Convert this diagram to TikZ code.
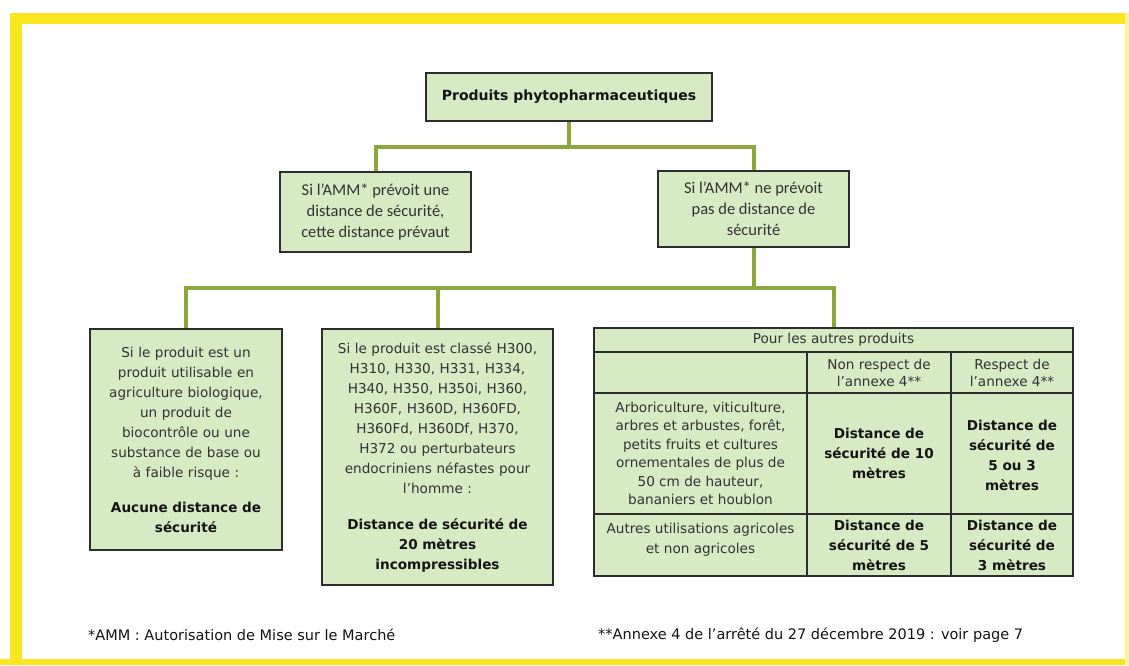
\documentclass[tikz,border=0pt]{standalone}
\usepackage{fontspec}
\setmainfont{Carlito}
\newfontfamily\tah{DejaVu Sans}
\definecolor{ylw}{RGB}{250,230,30}
\definecolor{ylwpale}{RGB}{252,244,150}
\definecolor{boxfill}{RGB}{214,235,196}
\definecolor{boxline}{RGB}{45,45,45}
\definecolor{conncol}{RGB}{140,168,60}
\definecolor{txt}{RGB}{50,50,50}
\definecolor{btxt}{RGB}{20,20,20}
\tikzset{
  box/.style={draw=boxline, line width=2.2pt, fill=boxfill, inner sep=0pt, align=center, text=txt},
  conn/.style={draw=conncol, line width=4pt},
  tline/.style={draw=boxline, line width=1.8pt},
  ftah/.style={font={\tah\fontsize{13.6}{20}\selectfont}},
  fcal/.style={font={\fontsize{16.5}{21}\selectfont}},
  cell/.style={inner sep=0pt, align=center, text=txt, font={\tah\fontsize{13.6}{18.5}\selectfont}},
  bcell/.style={inner sep=0pt, align=center, text=btxt, font={\tah\bfseries\fontsize{13.6}{20}\selectfont}},
  foot/.style={inner sep=0pt, anchor=west, text=btxt, font={\tah\fontsize{14.5}{18}\selectfont}}
}
\begin{document}
\begin{tikzpicture}[x=1pt,y=-1pt]
\useasboundingbox (0,0) rectangle (1129,665);
\fill[white] (0,0) rectangle (1129,665);
% yellow frame
\fill[ylw] (10,13) rectangle (1129,24);
\fill[ylw] (10,13) rectangle (22,665);
\fill[ylw] (0,659) rectangle (1129,665);
\fill[ylwpale] (1125,13) rectangle (1129,665);

% level 1
\node[box, minimum width=286pt, minimum height=48pt, text=btxt,
      font={\tah\bfseries\fontsize{14}{18}\selectfont}] (top) at (569,97) {Produits phytopharmaceutiques};

% level 2
\node[box, fcal, minimum width=191pt, minimum height=80pt] (l2a) at (375.5,212)
  {Si l’AMM* prévoit une\\distance de sécurité,\\cette distance prévaut};
\node[box, fcal, minimum width=191pt, minimum height=76pt] (l2b) at (753.5,209)
  {Si l’AMM* ne prévoit\\pas de distance de\\sécurité};

% level 3
\node[box, ftah, minimum width=192pt, minimum height=221pt, text width=188pt] (l3a) at (186,439.5)
  {Si le produit est un\\produit utilisable en\\agriculture biologique,\\un produit de\\biocontrôle ou une\\substance de base ou\\à faible risque :\\[15pt]\bfseries\color{btxt}Aucune distance de\\sécurité};
\node[box, ftah, minimum width=231pt, minimum height=256pt, text width=228pt] (l3b) at (437.5,457)
  {Si le produit est classé H300,\\H310, H330, H331, H334,\\H340, H350, H350i, H360,\\H360F, H360D, H360FD,\\H360Fd, H360Df, H370,\\H372 ou perturbateurs\\endocriniens néfastes pour\\l’homme :\\[16pt]\bfseries\color{btxt}Distance de sécurité de\\20 mètres\\incompressibles};

% table
\node[box, minimum width=479pt, minimum height=248pt] (tbl) at (833.5,452) {};
\coordinate (colA) at (807,352);
\coordinate (colB) at (951,352);
\draw[tline] (tbl.west |- colA) -- (tbl.east |- colA);
\draw[tline] (tbl.west |- 0,393) -- (tbl.east |- 0,393);
\draw[tline] (tbl.west |- 0,514) -- (tbl.east |- 0,514);
\draw[tline] (colA) -- (colA |- tbl.south);
\draw[tline] (colB) -- (colB |- tbl.south);

\node[cell] (c0) at (833.5,340) {Pour les autres produits};
\node[cell, font={\tah\fontsize{13.6}{17}\selectfont}] (c12) at (879,372.5) {Non respect de\\l’annexe 4**};
\node[cell, font={\tah\fontsize{13.6}{17}\selectfont}] (c13) at (1012,372.5) {Respect de\\l’annexe 4**};
\node[cell] (c21) at (700.5,453.5) {Arboriculture, viticulture,\\arbres et arbustes, forêt,\\petits fruits et cultures\\ornementales de plus de\\50 cm de hauteur,\\bananiers et houblon};
\node[bcell] (c22) at (879,453.5) {Distance de\\sécurité de 10\\mètres};
\node[bcell] (c23) at (1012,455) {Distance de\\sécurité de\\5 ou 3\\mètres};
\node[cell, font={\tah\fontsize{13.6}{20}\selectfont}] (c31) at (700.5,540) {Autres utilisations agricoles\\et non agricoles};
\node[bcell] (c32) at (879,545) {Distance de\\sécurité de 5\\mètres};
\node[bcell] (c33) at (1012,545) {Distance de\\sécurité de\\3 mètres};

% connectors
\draw[conn] (top.south) -- (top.south |- 0,147);
\draw[conn] (l2a.north) |- (l2b.north |- 0,147) -- (l2b.north);
\draw[conn] (l2b.south) -- (l2b.south |- 0,288);
\draw[conn] (l3a.north) |- (tbl.north |- 0,288) -- (tbl.north);
\draw[conn] (l3b.north) -- (l3b.north |- 0,288);

% footnotes
\node[foot] (f1) at (88,635) {*AMM : Autorisation de Mise sur le Marché};
\node[foot] (f2) at (598,635) {**Annexe 4 de l’arrêté du 27 décembre 2019 : voir page 7};
\end{tikzpicture}
\end{document}
